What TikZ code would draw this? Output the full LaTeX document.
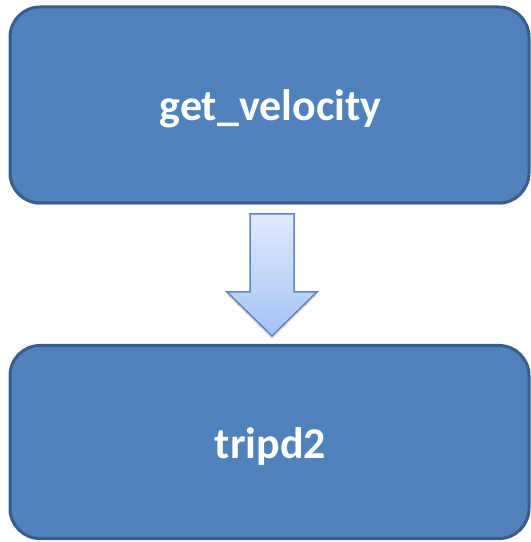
\documentclass[tikz,border=0pt]{standalone}
\usepackage{fontspec}
\setmainfont{Carlito}
\usetikzlibrary{shadows,fadings}
\definecolor{boxfill}{HTML}{4F81BD}
\definecolor{boxline}{HTML}{385D8A}
\definecolor{arrtop}{HTML}{E0EAFB}
\definecolor{arrbot}{HTML}{A4C2F6}
\definecolor{arrline}{HTML}{5A88C4}
\tikzset{
  procbox/.style={draw=boxline, line width=3pt, fill=boxfill, rounded corners=30pt,
    minimum width=519pt, inner sep=0pt,
    drop shadow={shadow xshift=0pt, shadow yshift=-2pt, opacity=0.3}},
  boxtext/.style={text=white, inner sep=0pt, font=\bfseries\fontsize{44}{52}\selectfont},
  blockarrow/.style={draw=arrline, line width=1.5pt, top color=arrtop, bottom color=arrbot,
    drop shadow={shadow xshift=0pt, shadow yshift=-3pt, opacity=0.25}}
}
\begin{document}
\begin{tikzpicture}[x=1pt,y=1pt]
\useasboundingbox (0,0) rectangle (531,542);
\node[procbox, minimum height=196pt] (top) at (269.5,437) {};
\node[procbox, minimum height=193pt] (bot) at (269.5,100) {};
\node[boxtext] (toptext) at ([xshift=1pt,yshift=-4pt]top.center) {get\_velocity};
\node[boxtext] (bottext) at ([xshift=1pt,yshift=-5pt]bot.center) {tripd2};
\draw[blockarrow] (250,328) -- (294,328) -- (294,250) -- (317,250) -- (272,206) -- (227,250) -- (250,250) -- cycle;
\end{tikzpicture}
\end{document}
